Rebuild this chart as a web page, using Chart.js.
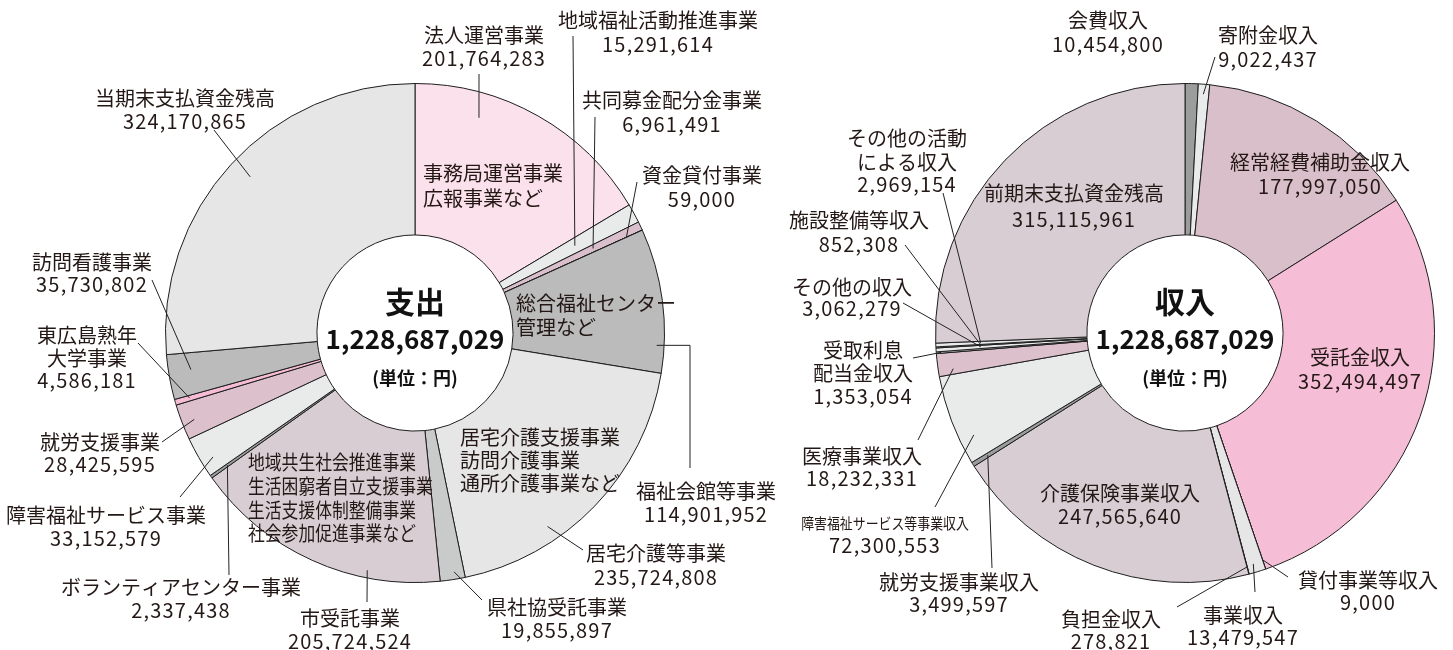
<!DOCTYPE html>
<html><head><meta charset="utf-8">
<script src="https://cdn.jsdelivr.net/npm/chart.js@4.4.1/dist/chart.umd.min.js"></script>
<style>
html,body{margin:0;padding:0;background:#fff;}
#wrap{position:relative;width:1453px;height:650px;overflow:hidden;}
canvas{position:absolute;left:0;top:0;}
</style></head><body>
<div id="wrap"><canvas id="out" width="1453" height="650"></canvas><canvas id="inc" width="1453" height="650"></canvas></div>
<script>
// ---- data ----
const expenseCategories = ['法人運営事業','地域福祉活動推進事業','共同募金配分金事業','資金貸付事業','福祉会館等事業','居宅介護等事業','県社協受託事業','市受託事業','ボランティアセンター事業','障害福祉サービス事業','就労支援事業','東広島熟年\n大学事業','訪問看護事業','当期末支払資金残高'];
const expenseValues = [201764283,15291614,6961491,59000,114901952,235724808,19855897,205724524,2337438,33152579,28425595,4586181,35730802,324170865];
const expenseColors = ['#fbe1eb','#e9ebea','#d9bfcb','#f4bcd3','#babbba','#e6e6e6','#c9caca','#d8cdd3','#9b9c9c','#e9ebea','#dcc1cc','#f5bcd4','#babbba','#e6e6e6'];

const incomeCategories = ['会費収入','寄附金収入','経常経費補助金収入','受託金収入','貸付事業等収入','事業収入','負担金収入','介護保険事業収入','就労支援事業収入','障害福祉サービス等事業収入','医療事業収入','受取利息\n配当金収入','その他の収入','施設整備等収入','その他の活動\nによる収入','前期末支払資金残高'];
const incomeValues = [10454800,9022437,177997050,352494497,9000,13479547,278821,247565640,3499597,72300553,18232331,1353054,3062279,852308,2969154,315115961];
const incomeColors = ['#9b9c9c','#e9ebea','#d9bfca','#f5bdd6','#e6e6e6','#e6e6e6','#d8cdd3','#d8cdd3','#9b9c9c','#e9ebea','#dcc1cc','#d8cdd3','#e9ebea','#d8cdd3','#e9ebea','#d8cdd3'];

const centerTitles = ['支出','収入'];
const unitText = '(単位：円)';

// ---- label layout (annotation positions) ----
const expenseLabels = [
  {i:0, x:484, y:[35,58], from:[479,74], t:0.28, r:0.9},
  {i:1, x:658, y:[20,44], from:[573,36], t:0.5, r:0.73},
  {i:2, x:672, y:[100,124], from:[595,117], t:0.5, r:0.79},
  {i:3, x:702, y:[175,199], from:[637,182], t:0.5, r:0.93},
  {i:4, x:706, y:[491,514], from:[690,468], elbowX:690, t:0.81, r:0.97},
  {i:5, x:656, y:[553,577], from:[583,550], t:0.67, r:0.94},
  {i:6, x:557, y:[607,630], from:[482,600], t:0.4, r:0.97},
  {i:7, x:350, y:[618,641], from:[367,602], t:0.285, r:0.97},
  {i:8, x:181, y:[587,610], from:[229,575], t:0.5, r:0.92},
  {i:9, x:106, y:[515,538], from:[180,497], t:0.34, r:0.95},
  {i:10, x:100, y:[442,464], from:[162,442], t:0.45, r:0.95},
  {i:11, x:87, y:[335,358,380], from:[138,343], t:0.5, r:0.94},
  {i:12, x:92, y:[262,284], from:[152,280], t:0.59, r:0.91},
  {i:13, x:185, y:[98,121], from:[214,130], t:0.51, r:0.91}
];
const expenseNotes = [
  {lines:['事務局運営事業','広報事業など'], x:423, y:[173,198], sx:1},
  {lines:['総合福祉センター','管理など'], x:516, y:[303,327], sx:1},
  {lines:['居宅介護支援事業','訪問介護事業','通所介護事業など'], x:460, y:[437,460,483], sx:1},
  {lines:['地域共生社会推進事業','生活困窮者自立支援事業','生活支援体制整備事業','社会参加促進事業など'], x:248, y:[462,486,510,533], sx:0.84}
];
const incomeLabels = [
  {i:0, x:1108, y:[20,44]},
  {i:1, x:1268, y:[35,59], from:[1215,57], t:0.5, r:0.96},
  {i:2, x:1320, y:[162,186]},
  {i:3, x:1360, y:[357,381]},
  {i:4, x:1368, y:[580,602], from:[1288,577], t:0.5, r:0.96},
  {i:5, x:1243, y:[615,637], from:[1255,592], t:0.6, r:0.965},
  {i:6, x:1111, y:[619,641], from:[1177,607], t:0.5, r:0.97},
  {i:7, x:1120, y:[493,516]},
  {i:8, x:959, y:[582,604], from:[992,568], t:0.5, r:0.93},
  {i:9, x:885, y:[523,545], from:[935,507], t:0.26, r:0.94, small:true},
  {i:10, x:862, y:[456,478], from:[918,440], t:0.25, r:0.94},
  {i:11, x:863, y:[350,373,396], from:[913,358], t:0.5, r:0.98},
  {i:12, x:852, y:[287,308], from:[903,303], t:0.5, r:0.82},
  {i:13, x:859, y:[220,244], from:[905,245], t:0.5, r:0.82},
  {i:14, x:907, y:[138,162,184], from:[943,193], t:0.5, r:0.82},
  {i:15, x:1074, y:[193,219]}
];

const FONT = '"Noto Sans CJK JP","Noto Sans",sans-serif';
const INK = '#231815';
const fmt = v => v.toLocaleString('en-US');

function drawNum(ctx, s, x, y, align, spacing){
  ctx.save();
  ctx.letterSpacing = spacing;
  ctx.textAlign = align;
  ctx.fillText(s, x, y);
  ctx.restore();
}

function labelPlugin(categories, values, labels, notes, title){
  return {
    id:'labels',
    afterDraw(chart){
      const ctx = chart.ctx;
      const arcs = chart.getDatasetMeta(0).data;
      ctx.save();
      ctx.strokeStyle = '#222';
      ctx.lineWidth = 1;
      labels.forEach(L => {
        if(!L.from) return;
        const p = arcs[L.i].getProps(['x','y','startAngle','endAngle','outerRadius'], true);
        const ang = p.startAngle + (p.endAngle - p.startAngle) * L.t;
        const ax = p.x + Math.cos(ang) * p.outerRadius * L.r;
        const ay = p.y + Math.sin(ang) * p.outerRadius * L.r;
        ctx.beginPath();
        ctx.moveTo(L.from[0], L.from[1]);
        if(L.elbowX !== undefined) ctx.lineTo(L.elbowX, ay);
        ctx.lineTo(ax, ay);
        ctx.stroke();
      });
      ctx.fillStyle = INK;
      ctx.textBaseline = 'middle';
      labels.forEach(L => {
        const names = categories[L.i].split('\n');
        names.forEach((n, k) => {
          ctx.font = '20px ' + FONT;
          ctx.textAlign = 'center';
          if(L.small){
            ctx.save();
            ctx.font = '15px ' + FONT;
            ctx.translate(L.x, L.y[k]);
            ctx.scale(0.86, 1);
            ctx.fillText(n, 0, 0);
            ctx.restore();
          } else {
            ctx.fillText(n, L.x, L.y[k]);
          }
        });
        ctx.font = '20px ' + FONT;
        drawNum(ctx, fmt(values[L.i]), L.x, L.y[names.length], 'center', '1.2px');
      });
      notes.forEach(N => {
        ctx.font = '20px ' + FONT;
        ctx.textAlign = 'left';
        N.lines.forEach((s, k) => {
          ctx.save();
          ctx.translate(N.x, N.y[k]);
          ctx.scale(N.sx, 1);
          ctx.fillText(s, 0, 0);
          ctx.restore();
        });
      });
      // center text
      const c = arcs[0].getProps(['x','y'], true);
      const total = values.reduce((a, b) => a + b, 0);
      ctx.fillStyle = '#111';
      ctx.textAlign = 'center';
      ctx.font = 'bold 30px ' + FONT;
      ctx.fillText(title, c.x, c.y - 31);
      ctx.font = 'bold 26px ' + FONT;
      drawNum(ctx, fmt(total), c.x, c.y + 6, 'center', '0px');
      ctx.font = 'bold 18px ' + FONT;
      ctx.fillText(unitText, c.x, c.y + 45);
      ctx.restore();
    }
  };
}

function makeChart(id, categories, values, colors, labels, notes, title, padding){
  return new Chart(document.getElementById(id), {
    type:'doughnut',
    data:{
      labels: categories,
      datasets:[{data: values, backgroundColor: colors, borderColor:'#1e1e1e', borderWidth:1, hoverOffset:0}]
    },
    options:{
      responsive:false,
      animation:false,
      events:[],
      cutout:'39.3%',
      rotation:0,
      layout:{padding},
      plugins:{legend:{display:false}, tooltip:{enabled:false}}
    },
    plugins:[labelPlugin(categories, values, labels, notes, title)]
  });
}

makeChart('out', expenseCategories, expenseValues, expenseColors, expenseLabels, expenseNotes, centerTitles[0], {left:165, right:788, top:83, bottom:67});
makeChart('inc', incomeCategories, incomeValues, incomeColors, incomeLabels, [], centerTitles[1], {left:935, right:18, top:83, bottom:67});
</script>
</body></html>
